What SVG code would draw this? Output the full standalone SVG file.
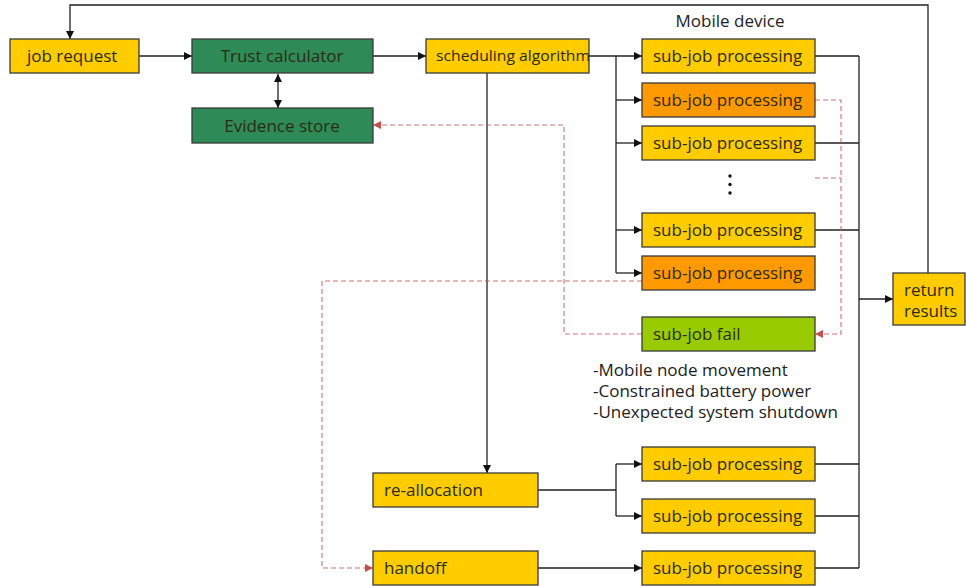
<svg xmlns="http://www.w3.org/2000/svg" width="966" height="586" viewBox="0 0 966 586">
<defs>
<marker id="ah" viewBox="0 0 10 10" refX="10" refY="5" markerWidth="8" markerHeight="8" markerUnits="userSpaceOnUse" orient="auto-start-reverse"><path d="M0,0 L10,5 L0,10 z" fill="#111"/></marker>
<marker id="ahr" viewBox="0 0 10 10" refX="10" refY="5" markerWidth="8" markerHeight="8" markerUnits="userSpaceOnUse" orient="auto"><path d="M0,0 L10,5 L0,10 z" fill="#C0504D"/></marker>
<style>
.box{stroke:#3a3a3a;stroke-width:1.3}
.y{fill:#FFCC00}.o{fill:#FF9900}.g{fill:#2E8B57}.l{fill:#99CC00}
text{font-family:"Open Sans","Noto Sans","DejaVu Sans",sans-serif;font-size:17px;fill:#2b2b10}
.c{text-anchor:middle}
.ln{fill:none;stroke:#222;stroke-width:1.3}
.dl{fill:none;stroke:#C0504D;stroke-opacity:0.8;stroke-width:1.1;stroke-dasharray:5,3}
.lab{fill:#222}
</style>
</defs>
<rect width="966" height="586" fill="#fff"/>
<g id="connectors">
<path class="ln" d="M928,273 V5 H70 V39" marker-end="url(#ah)"/>
<path class="ln" d="M139,56 H192" marker-end="url(#ah)"/>
<path class="ln" d="M278,74 V108" marker-start="url(#ah)" marker-end="url(#ah)"/>
<path class="ln" d="M373,56 H426" marker-end="url(#ah)"/>
<path class="ln" d="M589,56 H642" marker-end="url(#ah)"/>
<path class="ln" d="M616,56 V273"/>
<path class="ln" d="M616,100 H642" marker-end="url(#ah)"/>
<path class="ln" d="M616,143 H642" marker-end="url(#ah)"/>
<path class="ln" d="M616,230 H642" marker-end="url(#ah)"/>
<path class="ln" d="M616,273 H642" marker-end="url(#ah)"/>
<path class="ln" d="M487,73 V473" marker-end="url(#ah)"/>
<path class="ln" d="M538,490 H616 M616,464 V516"/>
<path class="ln" d="M616,464 H642" marker-end="url(#ah)"/>
<path class="ln" d="M616,516 H642" marker-end="url(#ah)"/>
<path class="ln" d="M538,568 H642" marker-end="url(#ah)"/>
<path class="ln" d="M815,56 H859 M815,143 H859 M815,230 H859 M815,464 H859 M815,516 H859 M815,568 H859 M859,56 V568"/>
<path class="ln" d="M859,299 H893" marker-end="url(#ah)"/>
<path class="dl" d="M815,100 H841 V334 H815" marker-end="url(#ahr)"/>
<path class="dl" d="M815,178 H841"/>
<path class="dl" d="M642,334 H564 V125 H373" marker-end="url(#ahr)"/>
<path class="dl" d="M642,281 H322 V568 H373" marker-end="url(#ahr)"/>
</g>
<g id="job-request"><rect class="box y" x="10" y="39" width="129" height="34"/><text x="27" y="62">job request</text></g>
<g id="trust-calculator"><rect class="box g" x="192" y="39" width="181" height="34"/><text class="c" x="282" y="62">Trust calculator</text></g>
<g id="evidence-store"><rect class="box g" x="192" y="108" width="181" height="35"/><text class="c" x="282" y="132">Evidence store</text></g>
<g id="scheduling-algorithm"><rect class="box y" x="426" y="39" width="163" height="34"/><text x="436" y="61" style="font-size:15px" textLength="154" lengthAdjust="spacingAndGlyphs">scheduling algorithm</text></g>
<g id="mobile-device-label"><text class="c lab" x="730" y="27">Mobile device</text></g>
<g id="sub1"><rect class="box y" x="642" y="39" width="173" height="34"/><text x="653" y="62">sub-job processing</text></g>
<g id="sub2"><rect class="box o" x="642" y="83" width="173" height="34"/><text x="653" y="106">sub-job processing</text></g>
<g id="sub3"><rect class="box y" x="642" y="126" width="173" height="34"/><text x="653" y="149">sub-job processing</text></g>
<g id="ellipsis"><circle cx="730" cy="176" r="1.7" fill="#111"/><circle cx="730" cy="184.5" r="1.7" fill="#111"/><circle cx="730" cy="193" r="1.7" fill="#111"/></g>
<g id="sub4"><rect class="box y" x="642" y="213" width="173" height="34"/><text x="653" y="236">sub-job processing</text></g>
<g id="sub5"><rect class="box o" x="642" y="256" width="173" height="34"/><text x="653" y="279">sub-job processing</text></g>
<g id="sub-job-fail"><rect class="box l" x="642" y="317" width="173" height="34"/><text x="653" y="340">sub-job fail</text></g>
<g id="fail-reasons"><text class="lab" x="593" y="376">-Mobile node movement</text><text class="lab" x="593" y="397">-Constrained battery power</text><text class="lab" x="593" y="418">-Unexpected system shutdown</text></g>
<g id="return-results"><rect class="box y" x="893" y="273" width="72" height="52"/><text x="904" y="296">return</text><text x="904" y="317">results</text></g>
<g id="re-allocation"><rect class="box y" x="373" y="473" width="165" height="34"/><text x="384" y="496">re-allocation</text></g>
<g id="handoff"><rect class="box y" x="373" y="551" width="165" height="34"/><text x="384" y="574">handoff</text></g>
<g id="sub6"><rect class="box y" x="642" y="447" width="173" height="34"/><text x="653" y="470">sub-job processing</text></g>
<g id="sub7"><rect class="box y" x="642" y="499" width="173" height="34"/><text x="653" y="522">sub-job processing</text></g>
<g id="sub8"><rect class="box y" x="642" y="551" width="173" height="34"/><text x="653" y="574">sub-job processing</text></g>
</svg>
